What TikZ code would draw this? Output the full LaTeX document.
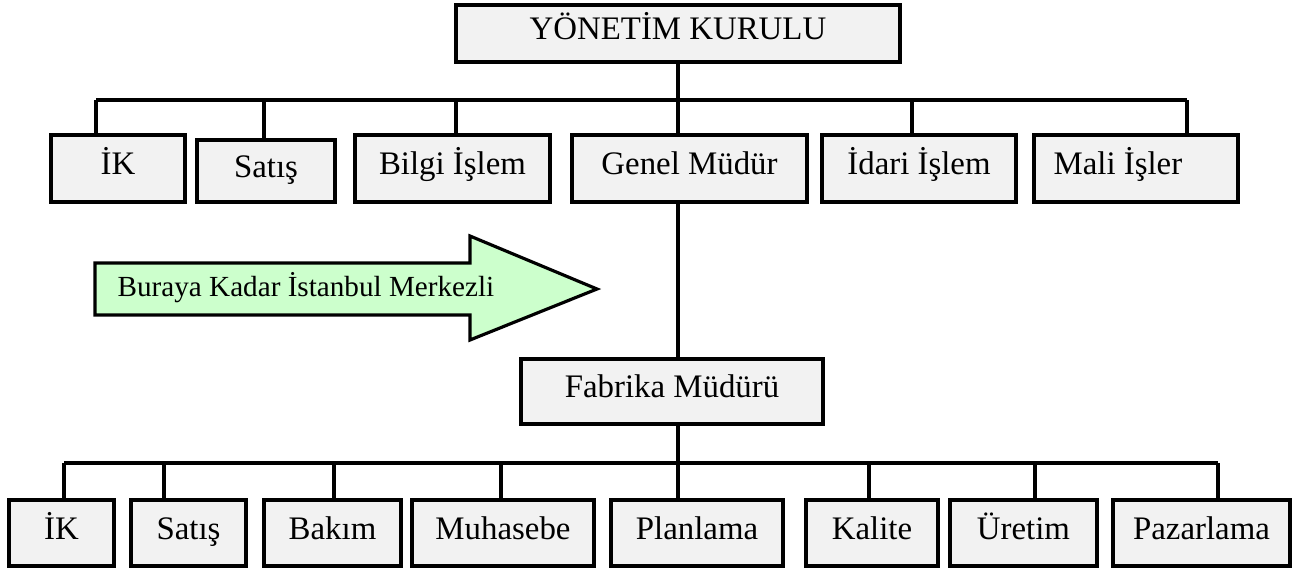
\documentclass[tikz,border=0pt]{standalone}
\usepackage{fontspec}
\setmainfont{Liberation Serif}
\usepackage{tikz}
\usetikzlibrary{positioning, calc}
\usepackage{xcolor}
\definecolor{kutugri}{RGB}{242,242,242}
\definecolor{okyesil}{RGB}{204,255,204}

\tikzset{
  birim/.style={draw=black, fill=kutugri, line width=1.8pt, inner sep=0pt,
    text height=0.9em, text depth=0.2em, font=\fontsize{18.7}{22}\selectfont},
  hat/.style={line width=1.8pt},
}

\begin{document}
\begin{tikzpicture}[x=0.02cm, y=-0.02cm]
            \useasboundingbox (0,0) rectangle (1299,568);
            % kutular: ad / sol / sag / ust / alt / yazi
            \foreach \ad/\xa/\xb/\ya/\yb/\yazi in {
                yk/456/900/5/62/{YÖNETİM KURULU},
                ik1/51/185/135/202/{İK}, satis1/197/335/140/202/{Satış},
                bilgi/355/550/135/202/{Bilgi İşlem}, genel/572/807/135/202/{Genel Müdür},
                idari/822/1016/135/202/{İdari İşlem}, mali/1034/1238/135/202/{Mali İşler\rule{1.1em}{0pt}},
                fab/521/823/359/424/{Fabrika Müdürü},
                ik2/9/114/500/566/{İK}, satis2/131/246/500/566/{Satış},
                bakim/264/401/500/566/{Bakım}, muhasebe/412/594/500/566/{Muhasebe},
                planlama/611/783/500/566/{Planlama}, kalite/806/938/500/566/{Kalite},
                uretim/950/1097/500/566/{Üretim}, pazarlama/1113/1290/500/566/{Pazarlama}}
                \node[birim, minimum width={(\xb-\xa)*0.02cm}, minimum height={(\yb-\ya)*0.02cm}]
                    (\ad) at ({(\xa+\xb)/2},{(\ya+\yb)/2}) {\yazi};
            % ana hat
            \draw[hat] (yk.south) -- (yk.south |- genel.north);
            \draw[hat] (yk.south |- genel.south) -- (yk.south |- fab.north);
            \draw[hat] (yk.south |- fab.south) -- (yk.south |- planlama.north);
            % ust dallar
            \coordinate (bus1) at (96,100);
            \coordinate (bus1son) at (1187,100);
            \draw[hat] (bus1) -- (bus1son);
            \foreach \ad/\x in {ik1/96, satis1/264, bilgi/456, idari/912, mali/1187}
                \draw[hat] (bus1 -| \x,0) -- (\ad.north -| \x,0);
            % alt dallar
            \coordinate (bus2) at (64,463);
            \coordinate (bus2son) at (1218,463);
            \draw[hat] (bus2) -- (bus2son);
            \foreach \ad/\x in {ik2/64, satis2/164, bakim/334, muhasebe/501, kalite/869, uretim/1035, pazarlama/1218}
                \draw[hat] (bus2 -| \x,0) -- (\ad.north -| \x,0);
            % ok
            \draw[hat, fill=okyesil, line join=miter] (95,263) -- (470,263) -- (470,236) -- (597,289)
                -- (470,340) -- (470,315) -- (95,315) -- cycle;
            \node[anchor=base, inner sep=0pt, font=\fontsize{16.6}{20}\selectfont] (merkez) at (306,296)
                {Buraya Kadar İstanbul Merkezli};
        \end{tikzpicture}
\end{document}
